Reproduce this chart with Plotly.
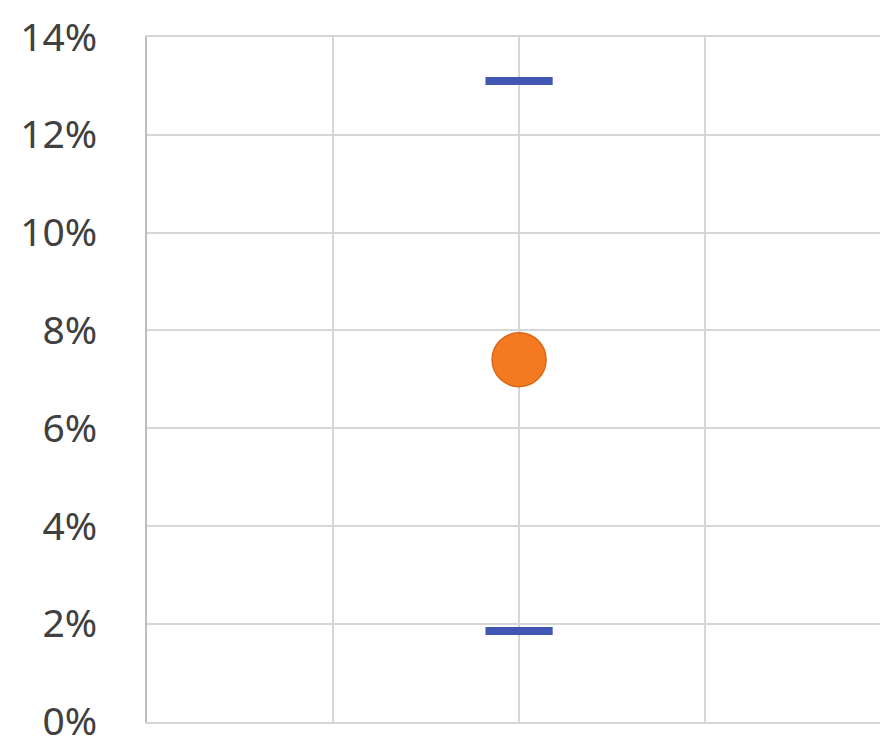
import plotly.graph_objects as go

# Data
x_pos = [2]
high_vals = [0.131]
low_vals = [0.0185]
mid_vals = [0.074]
y_ticks = [0, 0.02, 0.04, 0.06, 0.08, 0.10, 0.12, 0.14]
y_tick_labels = ["0%", "2%", "4%", "6%", "8%", "10%", "12%", "14%"]

fig = go.Figure()

fig.add_trace(go.Scatter(
    x=x_pos, y=high_vals, mode="markers",
    marker=dict(symbol="line-ew", size=48, line=dict(width=8, color="#4257b5")),
    showlegend=False, hoverinfo="y"))
fig.add_trace(go.Scatter(
    x=x_pos, y=low_vals, mode="markers",
    marker=dict(symbol="line-ew", size=48, line=dict(width=8, color="#4257b5")),
    showlegend=False, hoverinfo="y"))
fig.add_trace(go.Scatter(
    x=x_pos, y=mid_vals, mode="markers",
    marker=dict(symbol="circle", size=54, color="#f47920",
                line=dict(width=1.5, color="#d9681a")),
    showlegend=False, hoverinfo="y"))

fig.update_layout(
    width=880, height=738,
    margin=dict(l=147, r=0, t=37, b=16),
    paper_bgcolor="white", plot_bgcolor="white",
    font=dict(family="Noto Sans", size=39, color="#404040"),
    xaxis=dict(range=[0, 3.94], tick0=0, dtick=1, showticklabels=False,
               showgrid=True, gridcolor="#d6d6d6", gridwidth=2,
               zeroline=False, showline=True, mirror=True,
               linecolor="#d6d6d6", linewidth=2, fixedrange=True,
               automargin=False),
    yaxis=dict(range=[-0.0001, 0.14], tickvals=y_ticks, ticktext=y_tick_labels,
               showgrid=True, gridcolor="#d6d6d6", gridwidth=2,
               zeroline=False, showline=True, linecolor="#bdbdbd", linewidth=2,
               ticklabelstandoff=40, ticklabeloverflow="allow", fixedrange=True,
               automargin=False),
)

fig.write_html("out.html")
